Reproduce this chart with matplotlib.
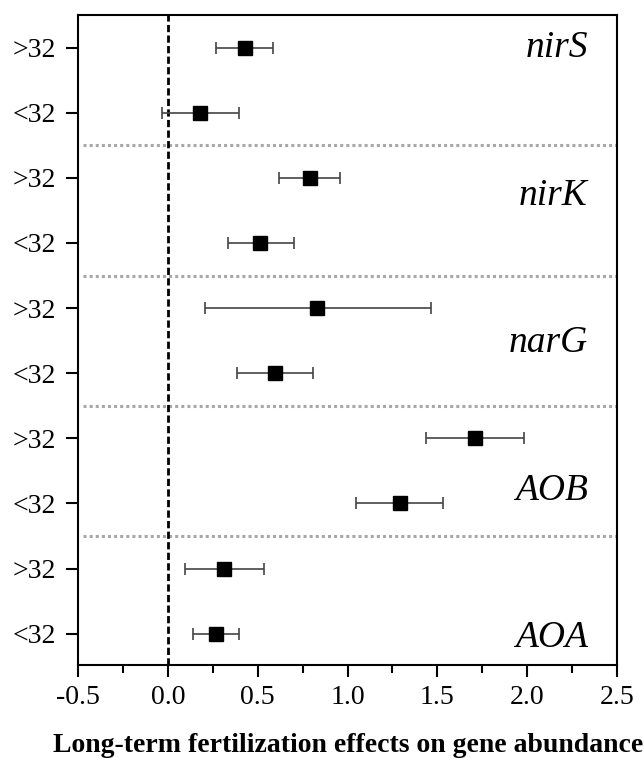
import matplotlib
matplotlib.use("Agg")
import matplotlib.pyplot as plt
from matplotlib.ticker import MultipleLocator
import matplotlib.transforms as mtransforms

# rows from top to bottom
row_labels = [">32", "<32", ">32", "<32", ">32", "<32", ">32", "<32", ">32", "<32"]
effect = [0.427, 0.179, 0.79, 0.513, 0.832, 0.594, 1.707, 1.29, 0.313, 0.266]
ci_low = [0.27, -0.03, 0.62, 0.335, 0.205, 0.383, 1.435, 1.049, 0.094, 0.14]
ci_high = [0.585, 0.394, 0.96, 0.70, 1.466, 0.81, 1.98, 1.533, 0.535, 0.394]
genes = ["nirS", "nirK", "narG", "AOB", "AOA"]
gene_label_rows = [0.146, 2.41, 4.68, 6.95, 9.2]

plt.rcParams['font.family'] = ['Liberation Serif', 'DejaVu Serif']

fig = plt.figure(figsize=(6.44, 7.58), dpi=100)
ax = fig.add_axes([78 / 644, 1 - 665 / 758, 539 / 644, 650 / 758])

y = list(range(len(effect)))
err_lo = [e - l for e, l in zip(effect, ci_low)]
err_hi = [h - e for e, h in zip(effect, ci_high)]

# dotted separators between genes
for k in range(1, len(genes)):
    ax.axhline(2 * k - 0.5, xmin=0.01, color='#a8a8a8', linestyle=(0, (1, 1)),
               linewidth=2.2, zorder=1)

ax.axvline(0, color='black', linestyle=(0, (2.6, 1.2)), linewidth=2, zorder=2)

ax.errorbar(effect, y, xerr=[err_lo, err_hi], fmt='s', color='black',
            ecolor='#444444', elinewidth=1.2, capsize=4.5, capthick=1.2,
            markersize=10, zorder=3)

trans = mtransforms.blended_transform_factory(ax.transAxes, ax.transData)
for g, r in zip(genes, gene_label_rows):
    ax.text(0.946, r, g, transform=trans, ha='right', va='baseline',
            fontsize=27, style='italic')

ax.set_xlim(-0.5, 2.5)
ax.set_ylim(9.48, -0.5)
ax.set_yticks(y)
ax.set_yticklabels(row_labels, fontsize=20)
ax.xaxis.set_major_locator(MultipleLocator(0.5))
ax.xaxis.set_minor_locator(MultipleLocator(0.25))
ax.set_xticklabels([f"{v:.1f}" for v in ax.get_xticks()], fontsize=20)
ax.tick_params(axis='x', which='major', length=8.5, width=1.5, pad=6)
ax.tick_params(axis='x', which='minor', length=5.5, width=1.5)
ax.tick_params(axis='y', which='major', length=8.5, width=1.5, pad=7)
for s in ax.spines.values():
    s.set_linewidth(1.5)

fig.text(53 / 644, 6 / 758, "Long-term fertilization effects on gene abundance",
         ha='left', va='baseline', fontsize=20, fontweight='bold')

fig.savefig("out.png", dpi=100)
